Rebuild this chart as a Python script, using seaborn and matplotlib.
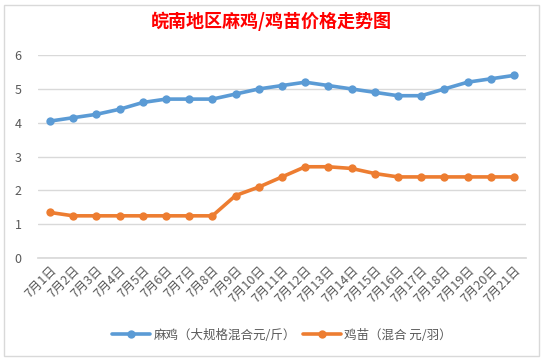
import numpy as np
import pandas as pd
import matplotlib
matplotlib.use("Agg")
import matplotlib.pyplot as plt
import seaborn as sns

days = [f"7月{d}日" for d in range(1, 22)]
mage = [4.05, 4.15, 4.25, 4.4, 4.6, 4.7, 4.7, 4.7, 4.85, 5.0, 5.1,
        5.2, 5.1, 5.0, 4.9, 4.8, 4.8, 5.0, 5.2, 5.3, 5.4]
chick = [1.35, 1.25, 1.25, 1.25, 1.25, 1.25, 1.25, 1.25, 1.85, 2.1, 2.4,
         2.7, 2.7, 2.65, 2.5, 2.4, 2.4, 2.4, 2.4, 2.4, 2.4]
series_names = ["麻鸡（大规格混合元/斤）", "鸡苗（混合 元/羽）"]
colors = ["#5B9BD5", "#ED7D31"]

df = pd.DataFrame({"day": days, series_names[0]: mage, series_names[1]: chick})
long = df.melt(id_vars="day", var_name="series", value_name="price")

sns.set_theme(style="white")
plt.rcParams["font.family"] = ["Noto Sans CJK SC", "DejaVu Sans"]

fig = plt.figure(figsize=(5.43, 3.6), dpi=100)
ax = fig.add_axes([0.0707, 0.283, 0.8973, 0.5639])

sns.lineplot(data=long, x="day", y="price", hue="series", palette=colors,
             marker="o", markersize=6, markeredgewidth=0, linewidth=2.6,
             sort=False, ax=ax)

ax.set_ylim(0, 6)
ax.set_yticks(range(0, 7))
ax.set_xlim(-0.5, len(days) - 0.5)
ax.yaxis.grid(True, color="#D9D9D9", linewidth=1)
ax.set_axisbelow(True)
for s in ["top", "right", "left"]:
    ax.spines[s].set_visible(False)
ax.spines["bottom"].set_color("#D9D9D9")
ax.set_xlabel("")
ax.set_ylabel("")
ax.tick_params(axis="y", length=0, labelsize=9, labelcolor="#595959", pad=12)
ax.set_xticks(np.arange(len(days)))
ax.set_xticklabels(days, rotation=45, ha="right", rotation_mode="anchor",
                   fontsize=9, color="#595959")
ax.tick_params(axis="x", length=0, pad=4)
# minor ticks between categories
ax.set_xticks(np.arange(-0.5, len(days)), minor=True)
ax.tick_params(axis="x", which="minor", length=4, color="#D9D9D9", direction="out")

fig.text(0.5, 0.94, "皖南地区麻鸡/鸡苗价格走势图", ha="center", va="center",
         color="#FF0000", fontsize=13, fontweight="bold")

ax.legend(loc="center", bbox_to_anchor=(0.5, -0.38), ncol=2, frameon=False,
          fontsize=9, labelcolor="#595959", handlelength=3, handletextpad=0.3,
          columnspacing=0.6)

# chart frame
fig.add_artist(plt.Rectangle((0.008, 0.01), 0.984, 0.975, fill=False,
                             edgecolor="#D9D9D9", linewidth=1,
                             transform=fig.transFigure))

fig.savefig("out.png", dpi=100)
